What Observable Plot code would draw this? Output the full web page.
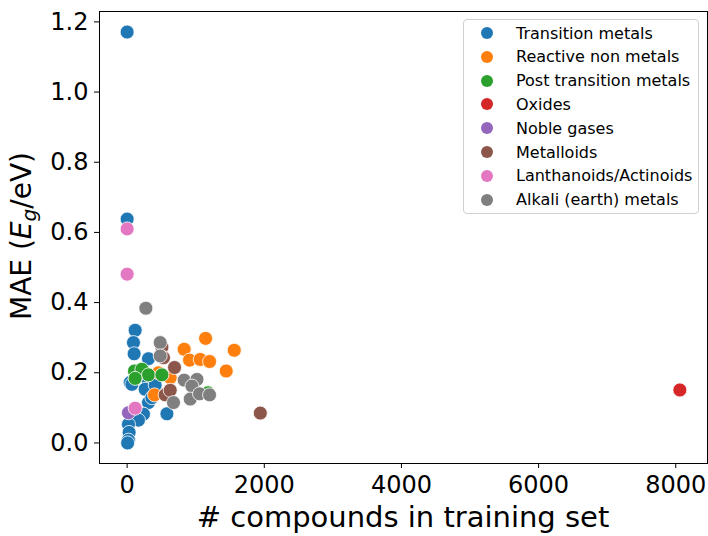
<!DOCTYPE html>
<html>
<head>
<meta charset="utf-8">
<script src="https://cdn.jsdelivr.net/npm/d3@7"></script>
<script src="https://cdn.jsdelivr.net/npm/@observablehq/plot@0.6"></script>
<style>
  html, body { margin: 0; padding: 0; background: white; }
  #wrap { position: relative; width: 708px; height: 536px; font-family: "DejaVu Sans", sans-serif; }
  #legend { position: absolute; left: 463px; top: 19px; width: 236px; height: 195px; box-sizing: border-box;
            border: 1px solid #d0d0d0; border-radius: 4px; background: rgba(255,255,255,0.8); }
  .row { position: absolute; left: 0; height: 20px; display: flex; align-items: center; font-size: 16px; color: #000; white-space: nowrap; }
  .sw { position: absolute; left: 17px; width: 12px; height: 12px; border-radius: 50%; }
  .lab { position: absolute; left: 52px; }
</style>
</head>
<body>
<div id="wrap"><div id="chart"></div><div id="legend"></div></div>
<script>
const categories = ["Transition metals","Reactive non metals","Post transition metals","Oxides","Noble gases","Metalloids","Lanthanoids/Actinoids","Alkali (earth) metals"];
const colors = ["#1f77b4","#ff7f0e","#2ca02c","#d62728","#9467bd","#8c564b","#e377c2","#7f7f7f"];
const xTicks = [0,2000,4000,6000,8000];
const yTicks = [0,0.2,0.4,0.6,0.8,1.0,1.2];

// [compounds, MAE] per category
const transitionMetals = [[0,1.171],[0,0.638],[117,0.321],[92,0.286],[102,0.254],[311,0.240],[44,0.172],[311,0.172],[69,0.167],[263,0.153],[311,0.115],[361,0.129],[409,0.165],[580,0.083],[238,0.082],[165,0.065],[19,0.053],[29,0.030],[19,0.008],[7,0.0]];
const reactiveNonMetals = [[1144,0.298],[832,0.267],[1562,0.264],[910,0.236],[1066,0.238],[1202,0.232],[1445,0.205],[628,0.186],[457,0.200],[399,0.137]];
const postTransitionMetals = [[107,0.205],[215,0.210],[311,0.194],[507,0.194],[117,0.184],[1180,0.143]];
const oxides = [[8060,0.151]];
const nobleGases = [[19,0.086]];
const metalloids = [[507,0.273],[530,0.243],[691,0.215],[555,0.137],[628,0.150],[1942,0.085]];
const lanthanoids = [[0,0.610],[0,0.481],[117,0.099]];
const alkaliMetals = [[273,0.384],[482,0.286],[482,0.248],[676,0.115],[832,0.179],[1018,0.181],[945,0.162],[920,0.125],[1056,0.140],[1202,0.137]];

const series = [transitionMetals, reactiveNonMetals, postTransitionMetals, oxides, nobleGases, metalloids, lanthanoids, alkaliMetals];
const data = [];
series.forEach((arr, i) => arr.forEach(([x, y]) => data.push({x, y, cat: categories[i]})));

const plot = Plot.plot({
  width: 708, height: 536,
  marginLeft: 99, marginRight: 1, marginTop: 11, marginBottom: 73,
  style: {fontFamily: "DejaVu Sans, sans-serif", color: "black", background: "white"},
  x: {domain: [-403, 8463], label: null},
  y: {domain: [-0.0586, 1.2296], label: null},
  color: {domain: categories, range: colors},
  marks: [
    Plot.frame({stroke: "black", strokeWidth: 1}),
    Plot.dot(data, {x: "x", y: "y", fill: "cat", r: 7, stroke: "white", strokeWidth: 0.8, fillOpacity: 1}),
    Plot.axisX({ticks: xTicks, tickSize: 5, tickPadding: 7, label: null, tickFormat: d => String(d)}),
    Plot.axisY({ticks: yTicks, tickSize: 5, tickPadding: 6, label: null, tickFormat: d => d.toFixed(1)})
  ]
});
document.getElementById("chart").appendChild(plot);

const svg = d3.select(plot);
svg.selectAll('g[aria-label="x-axis tick label"], g[aria-label="y-axis tick label"]')
  .attr("font-size", 24).style("font-size", "24px");
svg.selectAll('g[aria-label="x-axis tick"], g[aria-label="y-axis tick"]').attr("stroke", "black");

svg.append("text")
  .attr("x", 403).attr("y", 527)
  .attr("text-anchor", "middle")
  .attr("font-size", 29).attr("fill", "black")
  .text("# compounds in training set");
const yl = svg.append("text")
  .attr("transform", "translate(30.5,236) rotate(-90)")
  .attr("text-anchor", "middle")
  .attr("font-size", 28).attr("fill", "black");
yl.append("tspan").text("MAE (");
yl.append("tspan").attr("font-style", "italic").text("E");
yl.append("tspan").attr("font-style", "italic").attr("font-size", 20).attr("dy", 5).text("g");
yl.append("tspan").attr("dy", -5).text("/eV)");

const legend = d3.select("#legend");
categories.forEach((c, i) => {
  const row = legend.append("div").attr("class", "row").style("top", (3 + i * 23.8) + "px");
  row.append("span").attr("class", "sw").style("background", colors[i]);
  row.append("span").attr("class", "lab").text(c);
});
</script>
</body>
</html>
